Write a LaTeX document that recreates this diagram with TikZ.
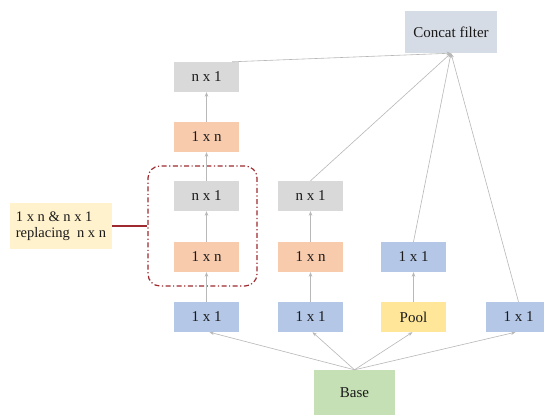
\documentclass[tikz,border=0pt]{standalone}
\usepackage{fontspec}
\setmainfont{Liberation Serif}
\usetikzlibrary{arrows.meta}
\definecolor{cblue}{HTML}{B4C7E7}
\definecolor{corange}{HTML}{F8CBAD}
\definecolor{cgrey}{HTML}{D9D9D9}
\definecolor{cyellow}{HTML}{FFE699}
\definecolor{cgreen}{HTML}{C5E0B4}
\definecolor{cconcat}{HTML}{D6DCE5}
\definecolor{clabel}{HTML}{FFF2CC}
\definecolor{cred}{HTML}{9E2A2F}
\definecolor{ctext}{HTML}{1A1A1A}
\tikzset{
  box/.style={minimum width=65pt, minimum height=30pt, inner sep=0pt, text=ctext, font=\fontsize{15}{17}\selectfont},
  blu/.style={box, fill=cblue},
  ora/.style={box, fill=corange},
  gry/.style={box, fill=cgrey},
  yel/.style={box, fill=cyellow},
  arr/.style={draw=black!28, line width=0.6pt, -{Stealth[length=4.5pt,width=3.5pt]}},
}
\begin{document}
\begin{tikzpicture}[x=1pt,y=-1pt]
\useasboundingbox (0,0) rectangle (544,420);
\clip (0,0) rectangle (544,420);
\fill[white] (0,0) rectangle (544,420);
% concat
\node[box, fill=cconcat, minimum width=92pt, minimum height=42pt] (concat) at (451,32) {Concat filter};
% column 1
\node[gry] (c1a) at (206.5,77) {n x 1};
\node[ora] (c1b) at (206.5,137) {1 x n};
\node[gry] (c1c) at (206.5,196) {n x 1};
\node[ora] (c1d) at (206.5,257) {1 x n};
\node[blu] (c1e) at (206.5,317) {1 x 1};
% column 2
\node[gry] (c2a) at (310.5,196) {n x 1};
\node[ora] (c2b) at (310.5,257) {1 x n};
\node[blu] (c2c) at (310.5,317) {1 x 1};
% column 3
\node[blu] (c3a) at (413.5,257) {1 x 1};
\node[yel] (c3b) at (413.5,317) {Pool};
% column 4
\node[blu] (c4a) at (518.5,317) {1 x 1};
% base
\node[box, fill=cgreen, minimum width=81pt, minimum height=45pt] (base) at (354.5,392.5) {Base};
% group
\node[draw=cred, line width=1.2pt, dash pattern=on 5pt off 2.5pt on 1.2pt off 2.5pt, rounded corners=12pt, minimum width=109pt, minimum height=120pt] (grp) at (202.5,226) {};
\node[fill=clabel, minimum width=102pt, minimum height=46pt, inner sep=0pt, align=left, text=ctext, font=\fontsize{14.5}{16.5}\selectfont] (lab) at (61,226) {1 x n \& n x 1\\replacing\ \ n x n};
\draw[cred, line width=1.2pt] (lab.east) -- (grp.west);
% vertical arrows
\draw[arr] (c1e) -- (c1d);
\draw[arr] (c1d) -- (c1c);
\draw[arr] (c1c) -- (c1b);
\draw[arr] (c1b) -- (c1a);
\draw[arr] (c2c) -- (c2b);
\draw[arr] (c2b) -- (c2a);
\draw[arr] (c3b) -- (c3a);
% base arrows
\draw[arr] (base.north) -- ([xshift=3pt]c1e.south);
\draw[arr] (base.north) -- ([xshift=2pt]c2c.south);
\draw[arr] (base.north) -- ([xshift=-1pt]c3b.south);
\draw[arr] (base.north) -- ([xshift=-3pt]c4a.south);
% concat arrows
\draw[arr] ([xshift=-7pt]c1a.north east) -- (concat.south);
\draw[arr] (c2a.north) -- (concat.south);
\draw[arr] (c3a.north) -- (concat.south);
\draw[arr] (c4a.north) -- (concat.south);
\end{tikzpicture}
\end{document}
